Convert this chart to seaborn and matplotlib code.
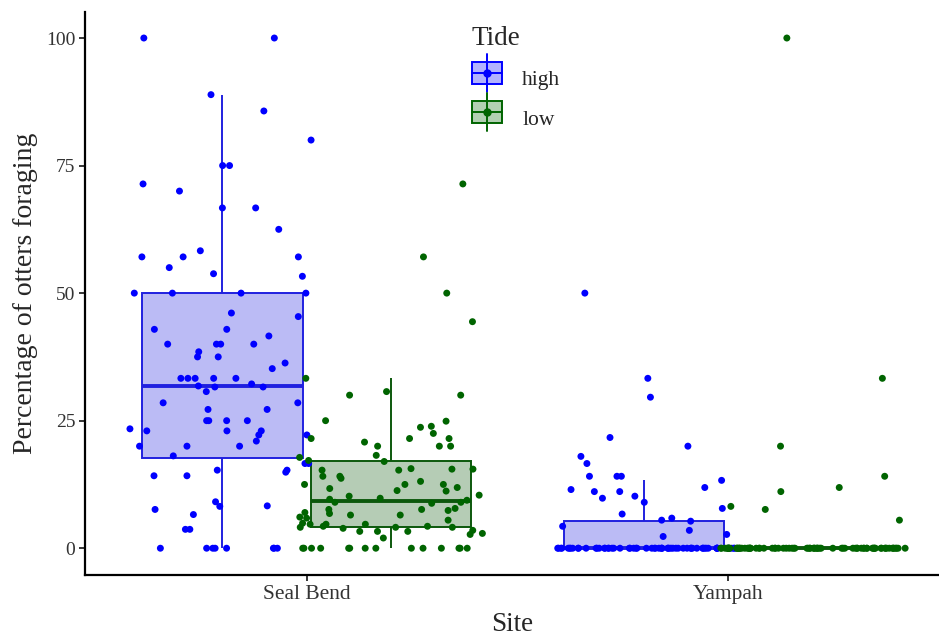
import numpy as np
import pandas as pd
import seaborn as sns
import matplotlib.pyplot as plt
from matplotlib.colors import to_rgba
from matplotlib.patches import Rectangle
from matplotlib.lines import Line2D
from matplotlib.legend_handler import HandlerBase

# Percent of otters foraging per survey
seal_high = [100, 100, 88.9, 85.7, 80, 75, 75, 71.4, 70, 66.7, 66.7, 62.5, 58.3,
             57.1, 57.1, 57.1, 55, 53.8, 53.3, 50, 50, 50, 50, 46.1, 45.4, 42.9,
             42.9, 41.6, 40, 40, 40, 40, 38.5, 37.5, 37.5, 36.3, 35.2, 33.3, 33.3,
             33.3, 33.3, 33.3, 32.2, 31.8, 31.6, 31.6, 30.7, 28.5, 28.5, 27.2,
             27.2, 25, 25, 25, 25, 23.4, 23, 23, 23, 22.2, 22.2, 21, 20, 20, 20,
             18.1, 16.6, 16.6, 15.3, 15.3, 14.9, 14.2, 14.2, 9.1, 8.3, 8.2, 7.6,
             6.6, 3.7, 3.7, 0, 0, 0, 0, 0, 0, 0, 0]
seal_low = [71.4, 57.1, 50, 44.4, 33.3, 30, 30, 30.7, 24.9, 23.9, 25, 23.7, 21.5,
            20.8, 21.5, 20, 21.5, 22.5, 20, 20, 17.8, 18.2, 17, 17.2,
            15.3, 15.6, 15.5, 15.5, 15.3, 13.7, 13.1, 14.1, 14.1, 12.5, 11.7,
            12.5, 11.9, 12.5, 11.3, 11.2, 10.4, 10.2, 9.6, 9.0, 9.4, 9.0, 9.8, 8.8,
            7.8, 6.8, 7.6, 7.4, 6.5, 7.6, 7, 6.5, 5.5, 5.9, 6.1, 4.7, 4.7, 4.7,
            4.9, 4.1, 4.3, 3.3, 4.3, 3.3, 3.3, 3.5, 2.9, 3.9, 4.1, 4.1, 2.7, 2] + [0] * 14
yampah_high = [50, 33.3, 29.6, 21.7, 20, 18, 16.6, 14.1, 14.1, 14.1, 13.3, 11.9,
               11.5, 11.1, 11.1, 10.2, 9.8, 9.0, 7.8, 6.7, 5.9, 5.5, 5.3, 4.3,
               3.5, 2.7, 2.3] + [0] * 60
yampah_low = [100, 33.3, 20, 14.1, 11.9, 11.1, 8.2, 7.6, 5.5] + [0] * 80

sites = ["Seal Bend", "Yampah"]
tides = ["high", "low"]
colors = {"high": "#0000FF", "low": "#006400"}

rows = []
for site, tide, vals in [("Seal Bend", "high", seal_high), ("Seal Bend", "low", seal_low),
                         ("Yampah", "high", yampah_high), ("Yampah", "low", yampah_low)]:
    for v in vals:
        rows.append((site, tide, v))
df = pd.DataFrame(rows, columns=["Site", "Tide", "Pct"])

sns.set_style("ticks")
plt.rcParams["font.family"] = ["Liberation Serif", "DejaVu Serif"]

fig = plt.figure(figsize=(9.39, 6.36), dpi=100)
ax = fig.add_axes([85 / 939, 61 / 636, 1 - 85 / 939, (575 - 12) / 636])

sns.boxplot(data=df, x="Site", y="Pct", hue="Tide", order=sites, hue_order=tides,
            palette=colors, showfliers=False, showcaps=False, width=0.8, gap=0.05,
            whis=1.5, linewidth=1.4, legend=False, ax=ax)

# ggplot-like look: coloured outline, translucent fill
for cont in ax.containers:
    col = cont.boxes[0].get_facecolor()
    for b in cont.boxes:
        b.set_facecolor(to_rgba(col, 0.3))
        b.set_edgecolor(col[:3])
    for ln in cont.whiskers:
        ln.set_color(col[:3])
    for ln in cont.medians:
        ln.set_color(col[:3])
        ln.set_linewidth(2.8)

np.random.seed(7)
sns.stripplot(data=df, x="Site", y="Pct", hue="Tide", order=sites, hue_order=tides,
              palette=colors, dodge=True, jitter=0.44, size=5, linewidth=0,
              legend=False, zorder=3, ax=ax)

ax.set_xlim(-0.526, 1.5)
ax.set_ylim(-5.25, 105.1)
ax.set_yticks([0, 25, 50, 75, 100])
ax.set_xlabel("Site", fontsize=19.5, labelpad=6)
ax.set_ylabel("Percentage of otters foraging", fontsize=20, labelpad=6)
ax.tick_params(labelcolor="#333333", length=4, width=1.1, color="black", pad=3)
ax.tick_params(axis="x", labelsize=15.5)
ax.tick_params(axis="y", labelsize=14)
sns.despine(ax=ax)
for s in ["left", "bottom"]:
    ax.spines[s].set_linewidth(1.6)
    ax.spines[s].set_color("black")


class BoxKey(HandlerBase):
    def create_artists(self, legend, orig, xd, yd, w, h, fontsize, trans):
        col = orig.get_color()
        cx, cy = xd + w / 2, yd + h / 2
        rect = Rectangle((xd, yd - 0.05 * h), w, 1.1 * h, facecolor=to_rgba(col, 0.3),
                         edgecolor=col, lw=1.4, transform=trans)
        whisk = Line2D([cx, cx], [yd - 0.45 * h, yd + 1.45 * h], color=col, lw=1.4,
                       transform=trans)
        med = Line2D([xd, xd + w], [cy, cy], color=col, lw=1.4, transform=trans)
        dot = Line2D([cx], [cy], marker="o", ms=5, color=col, lw=0, transform=trans)
        return [whisk, rect, med, dot]


handles = [Line2D([], [], color=colors[t]) for t in tides]
leg = ax.legend(handles, tides, title="Tide", handler_map={Line2D: BoxKey()},
                loc="upper left", bbox_to_anchor=(0.43, 1.01), frameon=False,
                fontsize=15.5, title_fontsize=19.5, handlelength=1.4, handleheight=1.05,
                labelspacing=0.8, handletextpad=0.95, alignment="left")

fig.savefig("out.png", dpi=100)
